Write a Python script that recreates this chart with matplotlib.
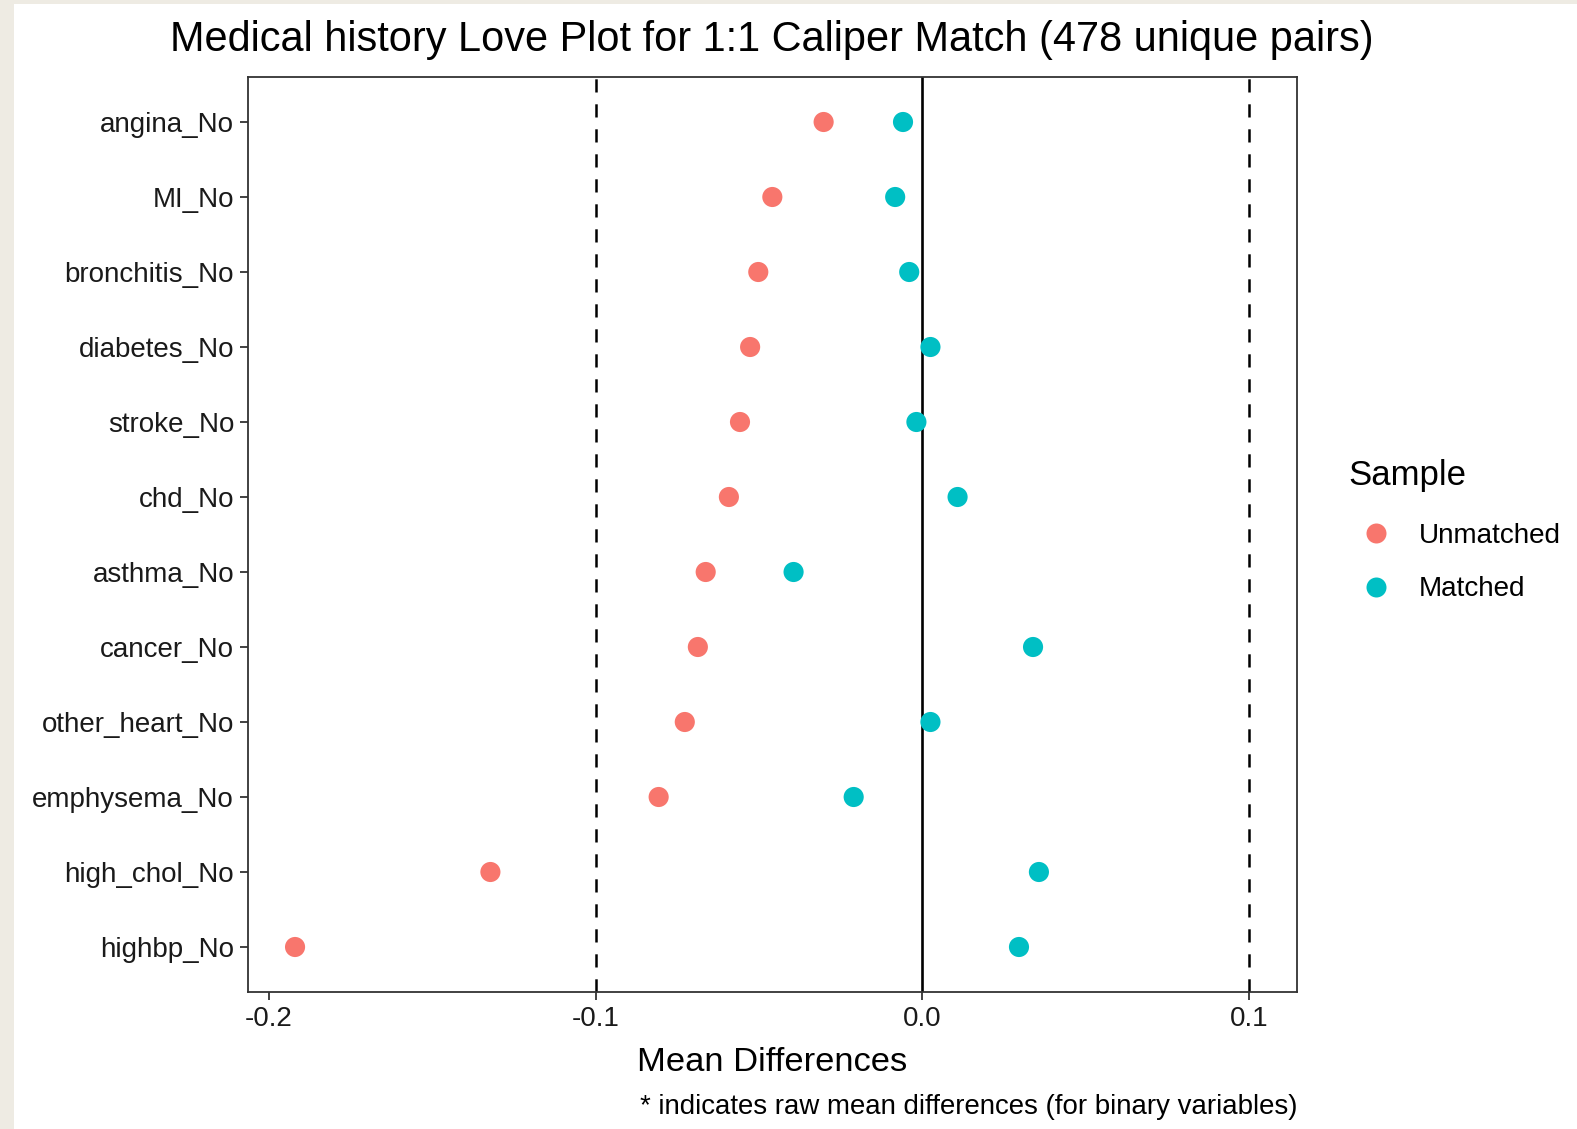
import matplotlib
matplotlib.use("Agg")
import matplotlib.pyplot as plt
from matplotlib.patches import Rectangle
from matplotlib.lines import Line2D

plt.rcParams['font.family'] = ['Liberation Sans', 'DejaVu Sans']
plt.rcParams['lines.scale_dashes'] = False

variables = ["angina_No", "MI_No", "bronchitis_No", "diabetes_No", "stroke_No",
             "chd_No", "asthma_No", "cancer_No", "other_heart_No", "emphysema_No",
             "high_chol_No", "highbp_No"]
unmatched = [-0.0302, -0.0459, -0.0502, -0.0527, -0.0558, -0.0592, -0.0663,
             -0.0687, -0.0727, -0.0807, -0.1322, -0.1920]
matched = [-0.0059, -0.0083, -0.0040, 0.0025, -0.0018, 0.0108, -0.0394,
           0.0339, 0.0025, -0.0210, 0.0357, 0.0296]
xticks = [-0.2, -0.1, 0.0, 0.1]
xticklabels = ["-0.2", "-0.1", "0.0", "0.1"]
thresholds = [-0.1, 0.1]

W, H = 1577, 1129
fig = plt.figure(figsize=(W / 100, H / 100), dpi=100)
fig.patch.set_facecolor("#EEEBE3")
bg = Rectangle((14 / W, 0), 1 - 14 / W, 1 - 4 / H, transform=fig.transFigure,
               facecolor="white", edgecolor="none", zorder=-10)
fig.add_artist(bg)

ax = fig.add_axes([248 / W, 1 - 992 / H, (1297 - 248) / W, (992 - 77) / H])
n = len(variables)
ypos = [n - i for i in range(n)]

ax.axvline(0, color="black", lw=1.9, zorder=1)
for t in thresholds:
    ax.axvline(t, color="black", lw=1.8, dashes=(9.5, 8.5), zorder=1)

ax.scatter(unmatched, ypos, s=210, color="#F8766D", edgecolors="none", zorder=3)
ax.scatter(matched, ypos, s=210, color="#00BFC4", edgecolors="none", zorder=3)

ax.set_xlim(-0.2064, 0.1147)
ax.set_ylim(0.4, n + 0.6)
ax.set_yticks(ypos)
ax.set_yticklabels(variables, fontsize=20, color="#1a1a1a")
ax.set_xticks(xticks)
ax.set_xticklabels(xticklabels, fontsize=20, color="#1a1a1a")
ax.tick_params(axis="both", length=6, width=1.3, color="#333333", pad=4)
for s in ax.spines.values():
    s.set_color("#333333")
    s.set_linewidth(1.3)
ax.set_facecolor("white")

ax.set_xlabel("Mean Differences", fontsize=24.8, color="black", labelpad=11)
fig.text(772 / W, 1 - 40 / H, "Medical history Love Plot for 1:1 Caliper Match (478 unique pairs)",
         fontsize=29.9, ha="center", va="center", color="black")
fig.text(1297 / W, 1 - 1107 / H, "* indicates raw mean differences (for binary variables)",
         fontsize=19.9, ha="right", va="center", color="black")

handles = [Line2D([], [], marker="o", ls="none", markersize=14.4, color="#F8766D", markeredgewidth=0),
           Line2D([], [], marker="o", ls="none", markersize=14.4, color="#00BFC4", markeredgewidth=0)]
leg = fig.legend(handles, ["Unmatched", "Matched"], title="Sample",
                 loc="upper left", bbox_to_anchor=(1348 / W, 1 - 459 / H),
                 frameon=False, fontsize=20.1, title_fontsize=25.0,
                 handletextpad=0.55, labelspacing=1.0, borderpad=0, borderaxespad=0)
leg._legend_box.align = "left"
leg._legend_box.sep = 22

fig.savefig("out.png", dpi=100, facecolor=fig.get_facecolor())
